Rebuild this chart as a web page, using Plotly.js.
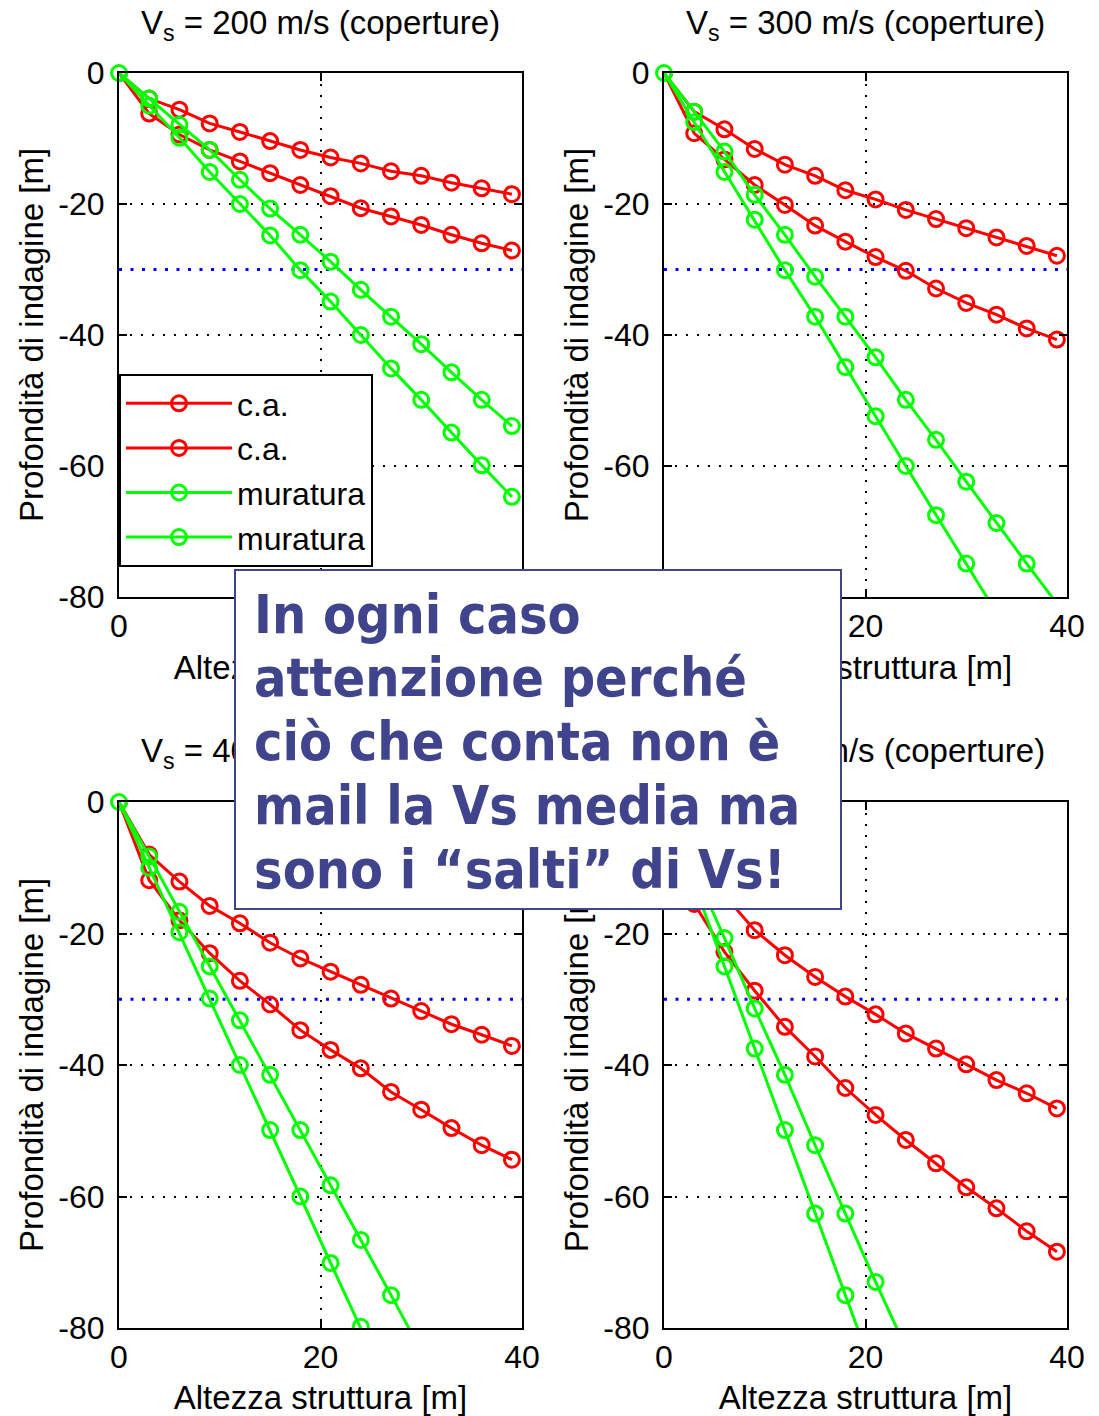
<!DOCTYPE html>
<html>
<head>
<meta charset="utf-8">
<script src="https://cdn.plot.ly/plotly-3.0.1.min.js"></script>
<style>
  html, body { margin: 0; padding: 0; background: #ffffff; }
  #chart { width: 1099px; height: 1416px; }
</style>
</head>
<body>
<div id="chart"></div>
<script>
// ---------------- DATA ----------------
// Structure height [m]
const H = [0, 3, 6, 9, 12, 15, 18, 21, 24, 27, 30, 33, 36, 39];

// Panel titles (Vs of the cover layer)
const vsValues = ['200', '300', '400', '500'];

// Legend names
const seriesNames = ['c.a.', 'c.a.', 'muratura', 'muratura'];

// Depth of investigation [m] (negative downwards)
// Vs = 200 m/s
const ca1_200  = [0, -3.9, -5.6, -7.7, -9.0, -10.4, -11.75, -12.9, -13.8, -15.0, -15.7, -16.75, -17.6, -18.5];
const ca2_200  = [0, -6.2, -9.4, -11.75, -13.5, -15.3, -17.1, -18.8, -20.65, -21.9, -23.2, -24.7, -26.0, -27.1];
const mur1_200 = [0, -3.9, -7.9, -11.75, -16.3, -20.7, -24.7, -28.8, -33.1, -37.2, -41.4, -45.7, -49.9, -53.9];
const mur2_200 = [0, -5.0, -9.9, -15.1, -20.0, -24.8, -30.1, -34.9, -40.0, -45.1, -49.9, -54.9, -59.9, -64.7];
// Vs = 300 m/s
const ca1_300  = [0, -5.9, -8.6, -11.6, -14.0, -15.7, -17.9, -19.3, -20.9, -22.3, -23.7, -25.1, -26.4, -27.9];
const ca2_300  = [0, -9.2, -13.2, -17.1, -20.15, -23.3, -25.75, -28.1, -30.2, -32.9, -35.1, -36.9, -39.0, -40.7];
const mur1_300 = [0, -5.9, -12.0, -18.6, -24.7, -31.1, -37.2, -43.4, -49.9, -56.0, -62.4, -68.7, -74.9, -81.0];
const mur2_300 = [0, -7.5, -15.1, -22.4, -30.1, -37.2, -44.9, -52.4, -60.0, -67.5, -74.9, -82.4];
// Vs = 400 m/s
const ca1_400  = [0, -8.0, -12.1, -15.8, -18.45, -21.4, -23.8, -25.8, -27.8, -29.9, -31.8, -33.8, -35.4, -37.1];
const ca2_400  = [0, -11.9, -18.0, -23.0, -27.2, -30.8, -34.7, -37.7, -40.5, -44.1, -46.8, -49.6, -52.2, -54.4];
const mur1_400 = [0, -8.3, -16.7, -25.0, -33.2, -41.5, -49.9, -58.3, -66.6, -75.0, -83.5];
const mur2_400 = [0, -10.0, -19.8, -29.9, -40.0, -49.9, -60.0, -70.1, -79.8, -90.0];
// Vs = 500 m/s
const ca1_500  = [0, -9.5, -14.2, -19.5, -23.3, -26.6, -29.6, -32.3, -35.2, -37.5, -39.9, -42.3, -44.3, -46.6];
const ca2_500  = [0, -15.5, -22.8, -28.7, -34.2, -38.7, -43.5, -47.6, -51.4, -54.95, -58.6, -61.8, -65.3, -68.4];
const mur1_500 = [0, -10.4, -20.7, -31.4, -41.5, -52.2, -62.6, -73.0, -83.0];
const mur2_500 = [0, -12.5, -25.0, -37.5, -49.9, -62.6, -75.0, -87.5];

// Reference depth (30 m) line
const refDepthX = [0, 40];
const refDepthY = [-30, -30];

// Tick labels
const xTickVals = [0, 20, 40];
const xTickText = ['0', '20', '40'];
const yTickVals = [0, -20, -40, -60, -80];
const yTickText = ['0', '-20', '-40', '-60', '-80'];

// Overlay note
const noteLines = ['In ogni caso', 'attenzione perché', 'ciò che conta non è', 'mail la Vs media ma', 'sono i “salti” di Vs!'];

// ---------------- STYLE ----------------
const RED = '#ff0000';
const GREEN = '#00ff00';
const FONT = 'Liberation Sans, Arial, sans-serif';
const NOTE_COLOR = '#3f448c';

const panels = [
  { ca1: ca1_200, ca2: ca2_200, mur1: mur1_200, mur2: mur2_200 },
  { ca1: ca1_300, ca2: ca2_300, mur1: mur1_300, mur2: mur2_300 },
  { ca1: ca1_400, ca2: ca2_400, mur1: mur1_400, mur2: mur2_400 },
  { ca1: ca1_500, ca2: ca2_500, mur1: mur1_500, mur2: mur2_500 }
];

const W = 1099, HT = 1416;
const xDomains = [[119 / W, 522 / W], [664 / W, 1067 / W]];
const yDomains = [[1 - 597 / HT, 1 - 73 / HT], [1 - 1328 / HT, 1 - 802 / HT]];

const traces = [];
panels.forEach((p, i) => {
  const xa = i === 0 ? 'x' : 'x' + (i + 1);
  const ya = i === 0 ? 'y' : 'y' + (i + 1);
  // blue reference line
  traces.push({
    x: refDepthX, y: refDepthY, xaxis: xa, yaxis: ya, mode: 'lines',
    line: { color: '#0000ff', width: 3, dash: '3px,8.5px' },
    showlegend: false, hoverinfo: 'skip'
  });
  const series = [p.ca1, p.ca2, p.mur1, p.mur2];
  const colors = [RED, RED, GREEN, GREEN];
  series.forEach((s, k) => {
    traces.push({
      x: H.slice(0, s.length), y: s, xaxis: xa, yaxis: ya,
      mode: 'lines+markers', name: seriesNames[k],
      showlegend: i === 0,
      line: { color: colors[k], width: 3 },
      marker: { symbol: 'circle-open', size: 15, color: colors[k], line: { width: 3, color: colors[k] } },
      cliponaxis: true
    });
  });
  // origin point (not clipped, as in the original)
  traces.push({
    x: [H[0]], y: [p.mur2[0]], xaxis: xa, yaxis: ya, mode: 'markers',
    marker: { symbol: 'circle-open', size: 15, color: GREEN, line: { width: 3, color: GREEN } },
    cliponaxis: false, showlegend: false, hoverinfo: 'skip'
  });
});

function xAxis(i) {
  return {
    domain: xDomains[i % 2], anchor: i === 0 ? 'y' : 'y' + (i + 1),
    range: [0, 40], tickmode: 'array', tickvals: xTickVals, ticktext: xTickText,
    ticks: 'inside', ticklen: 8, tickwidth: 2, tickcolor: '#000',
    showline: true, linecolor: '#000', linewidth: 2, mirror: 'ticks',
    showgrid: true, gridcolor: '#000', gridwidth: 2, griddash: '2px,9px',
    zeroline: false, fixedrange: true,
    tickfont: { family: FONT, size: 32, color: '#000' },
    title: { text: 'Altezza struttura [m]', font: { family: FONT, size: 33, color: '#000' }, standoff: 12 }
  };
}
function yAxis(i) {
  return {
    domain: yDomains[Math.floor(i / 2)], anchor: i === 0 ? 'x' : 'x' + (i + 1),
    range: [-80, 0], tickmode: 'array', tickvals: yTickVals, ticktext: yTickText,
    ticks: 'inside', ticklen: 8, tickwidth: 2, tickcolor: '#000',
    showline: true, linecolor: '#000', linewidth: 2, mirror: 'ticks',
    showgrid: true, gridcolor: '#000', gridwidth: 2, griddash: '2px,9px',
    zeroline: false, fixedrange: true, ticklabelstandoff: 6,
    tickfont: { family: FONT, size: 32, color: '#000' },
    title: { text: 'Profondità di indagine [m]', font: { family: FONT, size: 33, color: '#000' }, standoff: 5 }
  };
}

const annotations = [];
vsValues.forEach((v, i) => {
  const xd = xDomains[i % 2];
  const titleY = i < 2 ? 1 - 25 / HT : 1 - 753 / HT;
  annotations.push({
    xref: 'paper', yref: 'paper', x: (xd[0] + xd[1]) / 2, y: titleY,
    xanchor: 'center', yanchor: 'middle', showarrow: false,
    text: 'V<sub>s</sub> = ' + v + ' m/s (coperture)',
    font: { family: FONT, size: 33, color: '#000' }
  });
});
// overlay note box (drawn after the titles, on top)
const BOX = { x0: 234, y0: 569, x1: 842, y1: 910 };
annotations.push({
  xref: 'paper', yref: 'paper', x: BOX.x0 / W, y: 1 - BOX.y0 / HT,
  xanchor: 'left', yanchor: 'top', showarrow: false,
  text: ' ', width: BOX.x1 - BOX.x0 - 4, height: BOX.y1 - BOX.y0 - 4, borderpad: 0,
  bgcolor: '#ffffff', bordercolor: NOTE_COLOR, borderwidth: 2
});
const LINE0 = 633 - 19, LINE_STEP = 63.8;
noteLines.forEach((t, j) => {
  annotations.push({
    xref: 'paper', yref: 'paper', x: 252 / W, y: 1 - (LINE0 + j * LINE_STEP) / HT,
    xanchor: 'left', yanchor: 'middle', showarrow: false, align: 'left',
    text: t,
    font: { family: 'DejaVu Sans Condensed, DejaVu Sans, sans-serif', size: 53.5, color: NOTE_COLOR, weight: 'bold' }
  });
});

const layout = {
  width: W, height: HT,
  margin: { l: 0, r: 0, t: 0, b: 0 },
  paper_bgcolor: '#ffffff', plot_bgcolor: 'rgba(0,0,0,0)',
  showlegend: true,
  legend: {
    x: 119 / W, y: 1 - 374 / HT, xanchor: 'left', yanchor: 'top',
    bgcolor: '#ffffff', bordercolor: '#000', borderwidth: 2,
    font: { family: FONT, size: 32, color: '#000' },
    traceorder: 'normal', itemwidth: 106
  },
  annotations: annotations,
  xaxis: xAxis(0), yaxis: yAxis(0),
  xaxis2: xAxis(1), yaxis2: yAxis(1),
  xaxis3: xAxis(2), yaxis3: yAxis(2),
  xaxis4: xAxis(3), yaxis4: yAxis(3)
};

Plotly.newPlot('chart', traces, layout, { displayModeBar: false, staticPlot: true });
</script>
</body>
</html>
